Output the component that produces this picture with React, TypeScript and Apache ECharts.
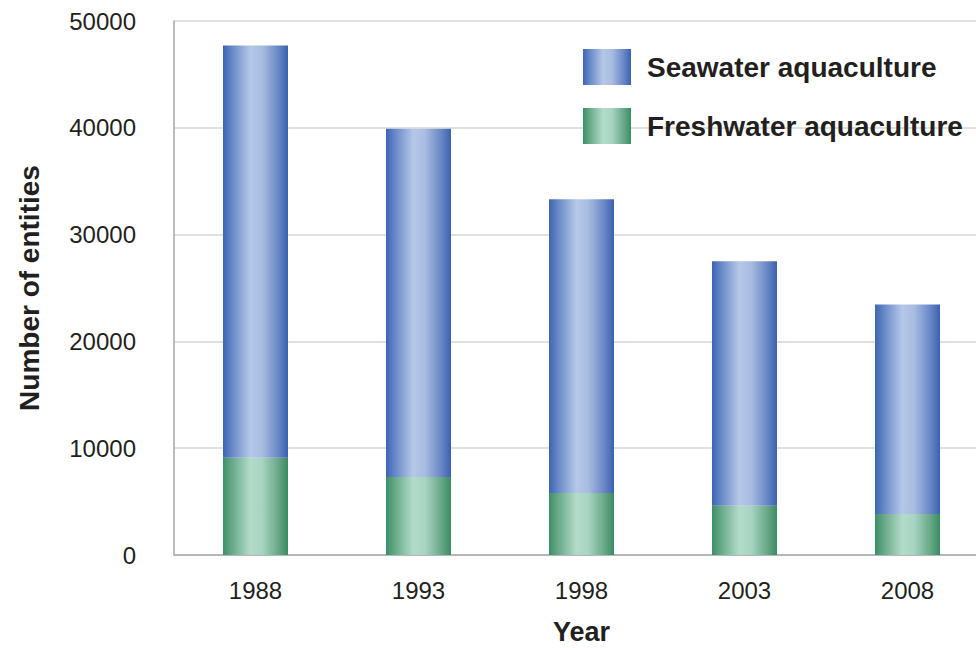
import React, { useEffect, useRef } from "react";
import * as echarts from "echarts";

const categories = ["1988", "1993", "1998", "2003", "2008"];
const freshwater = [9100, 7300, 5800, 4600, 3850];
const seawaterTotal = [47700, 39900, 33300, 27500, 23450];
const seawater = seawaterTotal.map((t, i) => t - freshwater[i]);
const yTicks = { min: 0, max: 50000, interval: 10000 };

const blueGrad = new echarts.graphic.LinearGradient(0, 0, 1, 0, [
  { offset: 0, color: "#3d64b3" },
  { offset: 0.15, color: "#6a8bc9" },
  { offset: 0.42, color: "#b6c8e7" },
  { offset: 0.6, color: "#a9bce1" },
  { offset: 0.85, color: "#6987c5" },
  { offset: 1, color: "#3a61b1" },
]);
const greenGrad = new echarts.graphic.LinearGradient(0, 0, 1, 0, [
  { offset: 0, color: "#3c8f66" },
  { offset: 0.15, color: "#6aab8b" },
  { offset: 0.42, color: "#b3dbca" },
  { offset: 0.6, color: "#a8d4c2" },
  { offset: 0.85, color: "#68a887" },
  { offset: 1, color: "#3a8c63" },
]);

export default function App() {
  const ref = useRef<HTMLDivElement>(null);
  useEffect(() => {
    document.body.style.margin = "0";
    document.body.style.overflow = "hidden";
    document.documentElement.style.overflow = "hidden";
    const chart = echarts.init(ref.current!, null, { renderer: "svg" });
    const txt = "#231f20";
    chart.setOption({
      animation: false,
      backgroundColor: "#ffffff",
      textStyle: { fontFamily: "Liberation Sans, Arial, sans-serif" },
      grid: {
        left: 174,
        top: 21,
        width: 815,
        height: 534,
        containLabel: false,
        outerBoundsMode: "none",
      },
      legend: {
        orient: "vertical",
        left: 578,
        top: 44,
        itemWidth: 48,
        itemHeight: 36,
        itemGap: 23,
        icon: "rect",
        data: ["Seawater aquaculture", "Freshwater aquaculture"],
        textStyle: {
          fontSize: 28,
          fontWeight: "bold",
          color: txt,
          padding: [0, 0, 0, 11],
        },
      },
      xAxis: {
        type: "category",
        data: categories,
        name: "Year",
        nameLocation: "middle",
        nameGap: 77,
        nameTextStyle: {
          fontSize: 27,
          fontWeight: "bold",
          color: txt,
          verticalAlign: "middle",
          lineHeight: 20,
        },
        axisLine: { lineStyle: { color: "#a8a8a8", width: 1.5 } },
        axisTick: { show: false },
        axisLabel: { fontSize: 24, color: txt, margin: 23 },
      },
      yAxis: {
        type: "value",
        min: yTicks.min,
        max: yTicks.max,
        interval: yTicks.interval,
        name: "Number of entities",
        nameLocation: "middle",
        nameGap: 131,
        nameTextStyle: { fontSize: 28, fontWeight: "bold", color: txt },
        axisLine: { show: true, lineStyle: { color: "#a8a8a8", width: 1.5 } },
        axisTick: { show: false },
        axisLabel: {
          fontSize: 24,
          color: txt,
          margin: 38,
          formatter: (v: number) => String(v),
        },
        splitLine: { lineStyle: { color: "#d6d6d6", width: 1.5 } },
      },
      series: [
        {
          name: "Freshwater aquaculture",
          type: "bar",
          stack: "total",
          barWidth: 65,
          data: freshwater,
          itemStyle: { color: greenGrad },
        },
        {
          name: "Seawater aquaculture",
          type: "bar",
          stack: "total",
          barWidth: 65,
          data: seawater,
          itemStyle: { color: blueGrad },
        },
      ],
    });
    return () => chart.dispose();
  }, []);
  return (
    <div ref={ref} style={{ width: 976, height: 648, overflow: "hidden" }} />
  );
}
